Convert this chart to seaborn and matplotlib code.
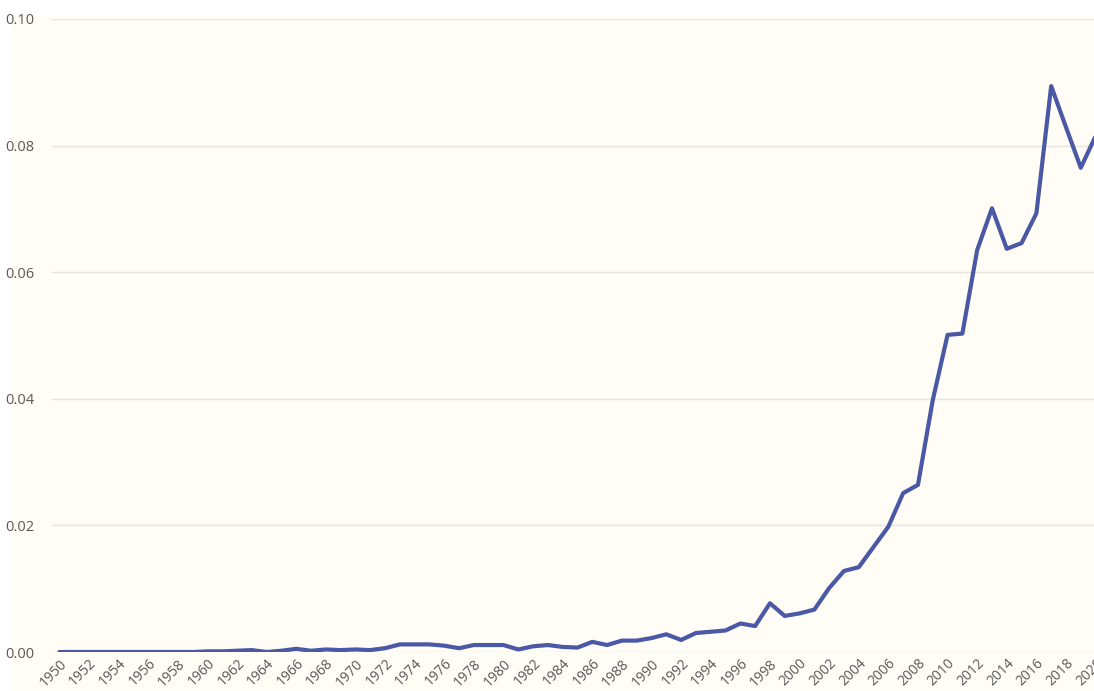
import numpy as np
import pandas as pd
import matplotlib.pyplot as plt
import seaborn as sns
from matplotlib.patches import Rectangle

# values
years = list(range(1950, 2021))
values = [
    0.0000, 0.0000, 0.0000, 0.0000, 0.0000, 0.0000, 0.0000, 0.0000, 0.0000, 0.0000,  # 1950-1959
    0.0001, 0.0001, 0.0002, 0.0003, 0.0000, 0.0002, 0.0005, 0.0002, 0.0004, 0.0003,  # 1960-1969
    0.0004, 0.0003, 0.0006, 0.0012, 0.0012, 0.0012, 0.0010, 0.0006, 0.0011, 0.0011,  # 1970-1979
    0.0011, 0.0004, 0.0009, 0.0011, 0.0008, 0.0007, 0.0016, 0.0011, 0.0018, 0.0018,  # 1980-1989
    0.0022, 0.0028, 0.0019, 0.0030, 0.0032, 0.0034, 0.0045, 0.0041, 0.0077, 0.0057,  # 1990-1999
    0.0061, 0.0067, 0.0101, 0.0128, 0.0134, 0.0166, 0.0198, 0.0251, 0.0264, 0.0398,  # 2000-2009
    0.0501, 0.0503, 0.0635, 0.0701, 0.0637, 0.0646, 0.0693, 0.0894, 0.0829, 0.0765,  # 2010-2019
    0.0815,                                                                          # 2020
]
y_ticks = [0.00, 0.02, 0.04, 0.06, 0.08, 0.10]

df = pd.DataFrame({'year': years, 'value': values})

cream = '#FFFDF6'
line_color = '#4A58A6'
text_color = '#595959'

sns.set_style('white', {'axes.facecolor': cream, 'grid.color': '#E9E2DD'})
plt.rcParams['font.family'] = ['Open Sans', 'DejaVu Sans']

fig = plt.figure(figsize=(10.94, 6.91), dpi=100, facecolor='white')
# cream chart area (cropped on the left/top edge in the reference)
fig.patches.append(Rectangle((12 / 1094, 0), 1, 1 - 15 / 691, transform=fig.transFigure,
                             facecolor=cream, edgecolor='none', zorder=-10))

ax = fig.add_axes([52 / 1094, 39 / 691, 1051 / 1094, 633 / 691])
sns.lineplot(data=df, x='year', y='value', ax=ax, color=line_color, linewidth=3.0)

ax.set_xlim(1949.5, 2020.5)
ax.set_ylim(0, 0.10)
ax.set_yticks(y_ticks)
ax.set_yticklabels([f'{v:.2f}' for v in y_ticks])
ax.set_xticks(years[::2])
ax.set_xticklabels([str(y) for y in years[::2]], rotation=45, ha='right',
                   rotation_mode='anchor')
ax.grid(axis='y', color='#E9E2DD', linewidth=1.0)
ax.grid(axis='x', visible=False)
ax.set_axisbelow(True)
ax.tick_params(axis='y', length=0, labelsize=10.5, labelcolor=text_color, pad=13)
ax.tick_params(axis='x', length=0, labelsize=10, labelcolor=text_color, pad=3)
ax.set_xlabel('')
ax.set_ylabel('')
for s in ax.spines.values():
    s.set_visible(False)

fig.savefig('out.png', dpi=100, facecolor=fig.get_facecolor())
